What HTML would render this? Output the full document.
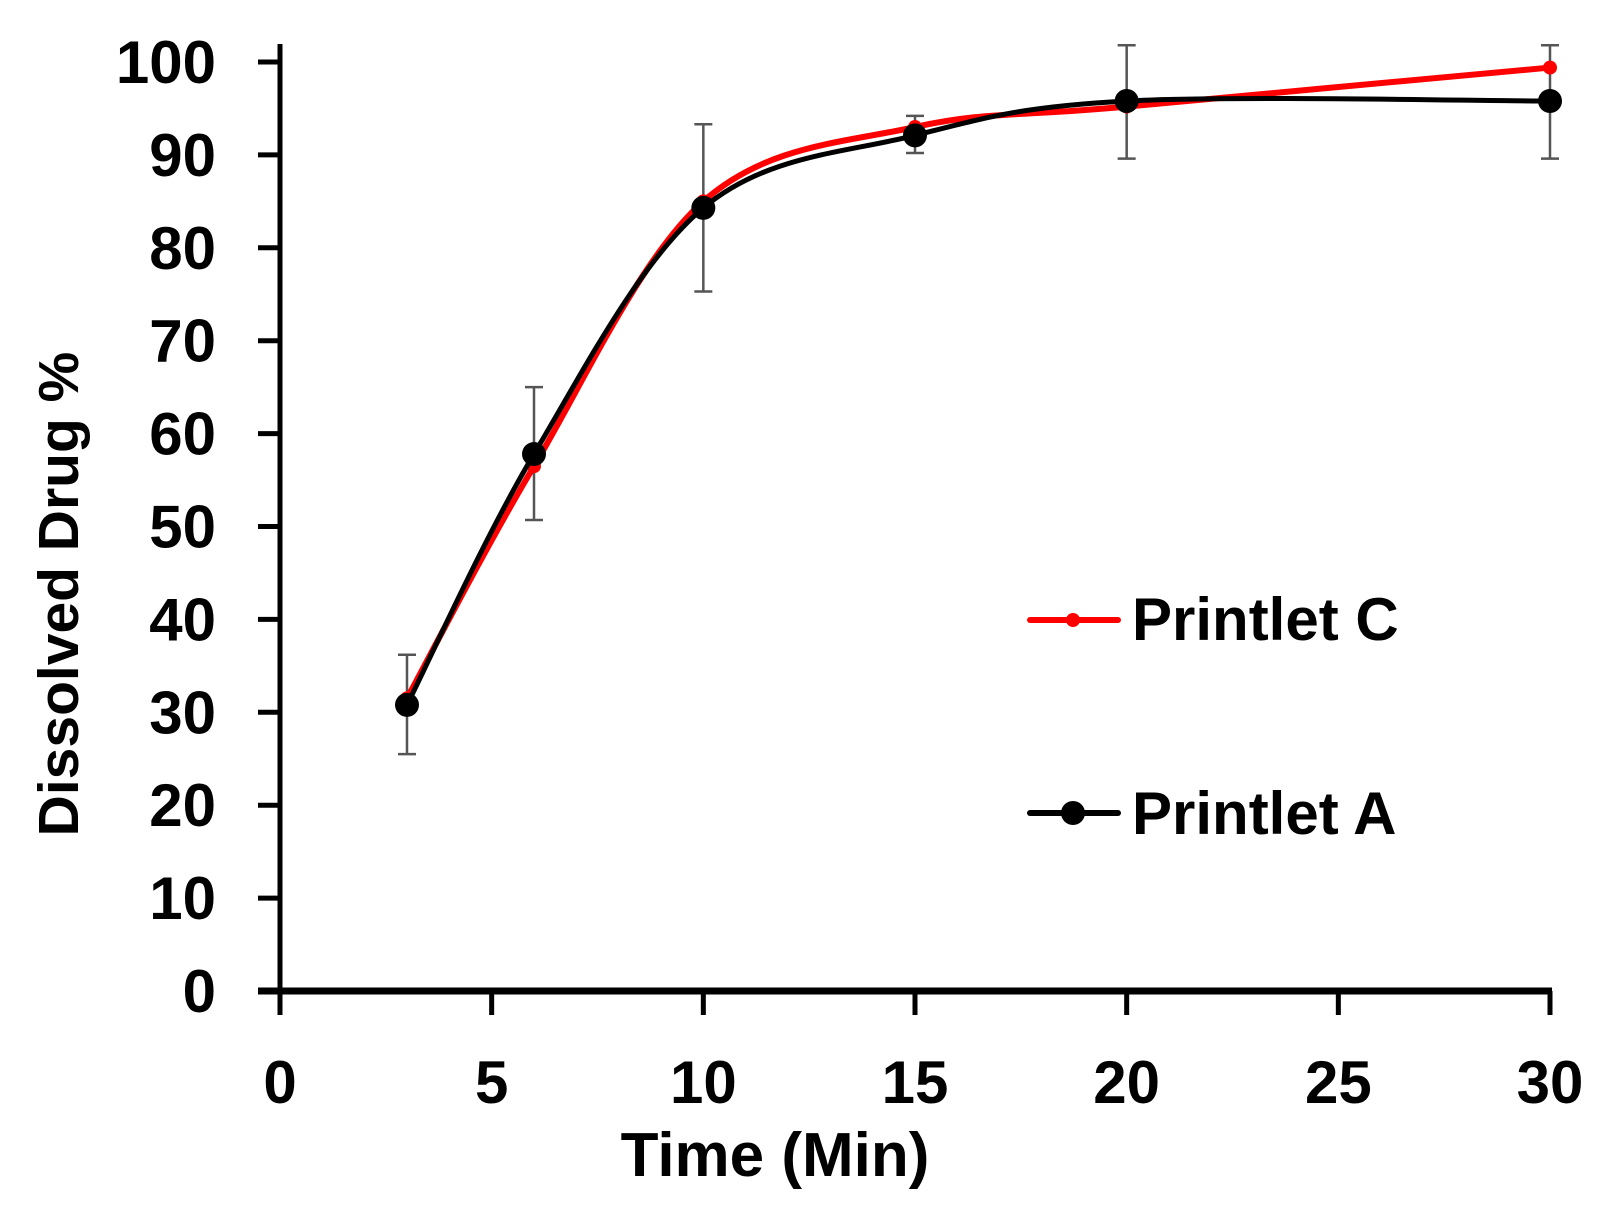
<!DOCTYPE html>
<html><head><meta charset="utf-8"><style>
body{margin:0;background:#fff;}
svg text{font-family:"Liberation Sans",sans-serif;font-weight:bold;fill:#000;}
</style></head><body>
<svg id="chart" width="1612" height="1204" viewBox="0 0 1612 1204" xmlns="http://www.w3.org/2000/svg">
<g id="axes"></g>
<g id="series"></g>
<text transform="translate(78,594) rotate(-90)" text-anchor="middle" font-size="57">Dissolved Drug %</text>
<text x="775" y="1176" text-anchor="middle" font-size="62">Time (Min)</text>
<g>
<g>
<line x1="1030" y1="620" x2="1118" y2="620" stroke="#f00" stroke-width="6" stroke-linecap="round"/>
<circle cx="1073" cy="620" r="7" fill="#f00"/>
<text x="1132" y="640" font-size="60">Printlet C</text>
</g>
<g>
<line x1="1030" y1="813" x2="1118" y2="813" stroke="#000" stroke-width="6" stroke-linecap="round"/>
<circle cx="1073" cy="813" r="12" fill="#000"/>
<text x="1132" y="834" font-size="60">Printlet A</text>
</g>
</g>
</svg>
<script>
const times=[3,6,10,15,20,30];
const printletC=[31.5,56.5,85,93,95.2,99.4];
const printletA=[30.8,57.8,84.3,92.1,95.8,95.8];
const errLow=[25.5,50.7,75.3,90.2,89.6,89.6];
const errHigh=[36.2,65,93.3,94.2,101.8,101.8];
const xTicks=[0,5,10,15,20,25,30];
const yTicks=[0,10,20,30,40,50,60,70,80,90,100];

const NS='http://www.w3.org/2000/svg';
const X0=280,X1=1556-6,Y0=991,Y1=62;
function sx(v){return X0+(v/30)*(X1-X0);}
function sy(v){return Y0-(v/100)*(Y0-Y1);}
function mk(tag,attrs,parent){const e=document.createElementNS(NS,tag);for(const k in attrs)e.setAttribute(k,attrs[k]);parent.appendChild(e);return e;}
const axes=document.getElementById('axes');
const series=document.getElementById('series');

let yl=mk('line',{x1:X0,y1:Y0+2,x2:X0,y2:44,stroke:'#000','stroke-width':5},axes);


let xl=mk('line',{x1:258,y1:Y0,x2:X1+2,y2:Y0,stroke:'#000','stroke-width':7},axes);


yTicks.forEach(t=>{
  let tk=mk('line',{x1:258,y1:sy(t),x2:X0,y2:sy(t),stroke:'#000','stroke-width':5},axes);
  
  
  let tx=mk('text',{x:216,y:sy(t)+21,'text-anchor':'end','font-size':60},axes);
  tx.textContent=t;
  
  
});
xTicks.forEach(t=>{
  let tk=mk('line',{x1:sx(t),y1:Y0,x2:sx(t),y2:1015,stroke:'#000','stroke-width':5},axes);
  
  
  let tx=mk('text',{x:sx(t),y:1103,'text-anchor':'middle','font-size':60},axes);
  tx.textContent=t;
  
  
});
function smooth(vals){
  const p=times.map((t,i)=>[sx(t),sy(vals[i])]);
  let d='M'+p[0][0]+','+p[0][1];
  for(let i=0;i<p.length-1;i++){
    const p0=p[i-1]||p[i],p1=p[i],p2=p[i+1],p3=p[i+2]||p2;
    const c1=[p1[0]+(p2[0]-p0[0])/6,p1[1]+(p2[1]-p0[1])/6];
    const c2=[p2[0]-(p3[0]-p1[0])/6,p2[1]-(p3[1]-p1[1])/6];
    d+=' C'+c1+' '+c2+' '+p2;
  }
  return d;
}
times.forEach((t,i)=>{
  const g=mk('g',{stroke:'#555','stroke-width':2.5},series);
  
  
  mk('line',{x1:sx(t),y1:sy(errLow[i]),x2:sx(t),y2:sy(errHigh[i])},g);
  mk('line',{x1:sx(t)-9,y1:sy(errLow[i]),x2:sx(t)+9,y2:sy(errLow[i])},g);
  mk('line',{x1:sx(t)-9,y1:sy(errHigh[i]),x2:sx(t)+9,y2:sy(errHigh[i])},g);
});
let pc=mk('path',{d:smooth(printletC),fill:'none',stroke:'#f00','stroke-width':6},series);


times.forEach((t,i)=>{
  let c=mk('circle',{cx:sx(t),cy:sy(printletC[i]),r:7,fill:'#f00'},series);
  
  
});
let pa=mk('path',{d:smooth(printletA),fill:'none',stroke:'#000','stroke-width':5},series);


times.forEach((t,i)=>{
  let c=mk('circle',{cx:sx(t),cy:sy(printletA[i]),r:12,fill:'#000'},series);
  
  
});
</script>
</body></html>
